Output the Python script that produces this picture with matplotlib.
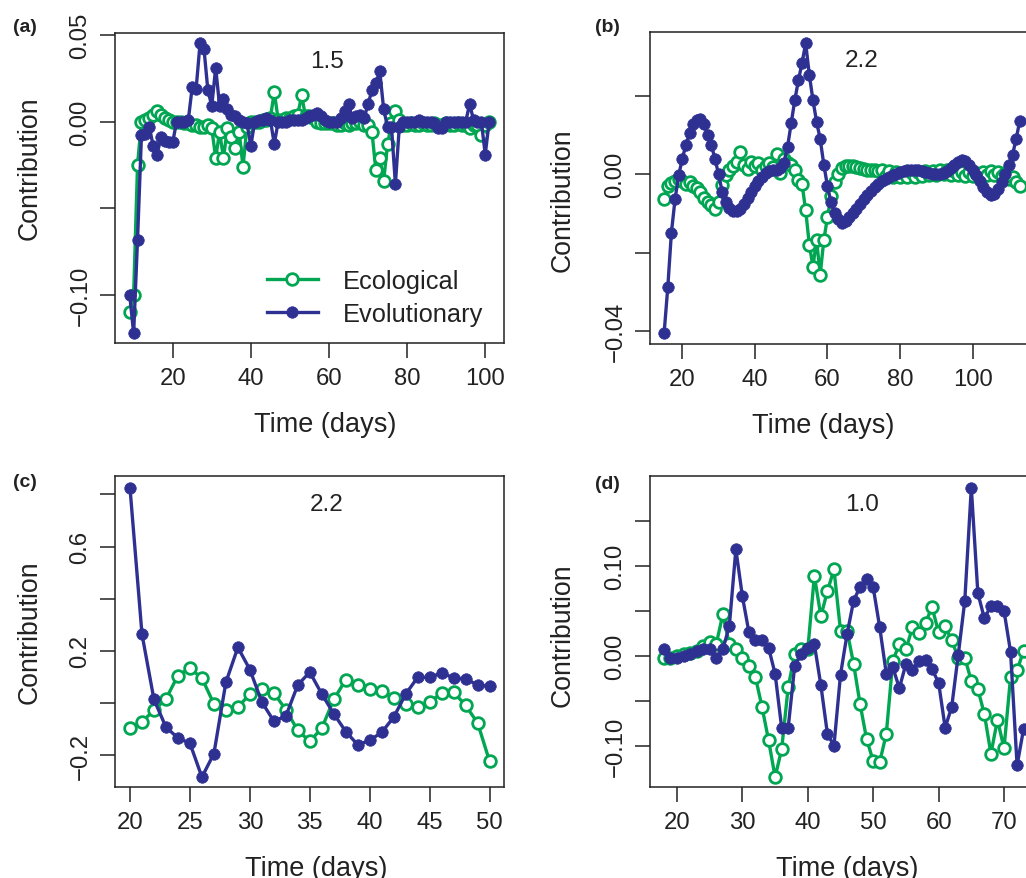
import numpy as np
import matplotlib.pyplot as plt

plt.rcParams['font.family'] = ['Liberation Sans', 'DejaVu Sans']
plt.rcParams['axes.unicode_minus'] = True

GREEN = '#00a651'
BLUE = '#2e3192'
INK = '#222222'

# ---- data (days, ecological, evolutionary) ----
days_a = list(range(9, 102))
eco_a = [-0.110, -0.100, -0.025, 0.000, 0.001, 0.002, 0.004, 0.006, 0.004, 0.002,
         0.001, 0.000, 0.000, 0.000, -0.001, -0.001, -0.002, -0.002, -0.003, -0.003,
         -0.002, -0.004, -0.021, -0.006, -0.021, -0.004, -0.009, -0.015, -0.006, -0.026,
         -0.003, 0.000, 0.000, 0.000, 0.001, 0.001, 0.002, 0.017, 0.001, 0.001,
         0.002, 0.002, 0.003, 0.004, 0.015, 0.003, 0.003, 0.002, 0.000, -0.001,
         -0.001, -0.001, -0.001, -0.002, -0.002, -0.001, -0.002, -0.001, -0.001, 0.000,
         -0.002, -0.002, -0.006, -0.028, -0.021, -0.034, -0.013, -0.001, 0.006, 0.001,
         -0.002, -0.002, -0.001, -0.002, -0.002, -0.001, -0.002, -0.002, -0.001, -0.002,
         -0.002, -0.001, -0.002, -0.002, -0.001, -0.002, -0.002, -0.004, -0.002, -0.002,
         -0.008, -0.002, 0.000]
evo_a = [-0.100, -0.122, -0.068, -0.008, -0.007, -0.003, -0.014, -0.019, -0.009, -0.011,
         -0.012, -0.012, 0.000, 0.000, 0.000, 0.001, 0.020, 0.019, 0.045, 0.042,
         0.018, 0.009, 0.031, 0.009, 0.013, 0.007, 0.004, 0.003, 0.001, 0.000,
         -0.001, -0.014, 0.000, 0.001, 0.001, 0.002, 0.001, -0.013, 0.000, 0.000,
         0.000, 0.001, 0.001, 0.001, 0.001, 0.002, 0.003, 0.004, 0.005, 0.003,
         0.001, 0.000, 0.000, 0.000, 0.002, 0.006, 0.010, 0.002, 0.003, 0.004,
         0.002, 0.010, 0.018, 0.022, 0.029, 0.007, -0.003, -0.003, -0.036, -0.003,
         0.000, 0.000, 0.000, 0.000, 0.001, 0.000, 0.000, 0.000, -0.001, -0.004,
         -0.004, 0.000, 0.000, 0.000, 0.000, 0.000, 0.000, 0.010, 0.001, 0.000,
         0.000, -0.019, 0.000]

days_b = list(range(15, 114))
eco_b = [-0.0064, -0.0030, -0.0022, -0.0018, -0.0012, -0.0018, -0.0025, -0.0020, -0.0030, -0.0035,
         -0.0045, -0.0060, -0.0070, -0.0078, -0.0088, -0.0070, -0.0028, -0.0002, 0.0010, 0.0020,
         0.0031, 0.0058, 0.0024, 0.0014, 0.0032, 0.0020, 0.0030, 0.0012, 0.0022, 0.0030,
         0.0018, 0.0052, 0.0004, 0.0040, 0.0030, 0.0024, 0.0010, -0.0015, -0.0025, -0.0092,
         -0.0180, -0.0236, -0.0168, -0.0257, -0.0168, -0.0110, -0.0055, -0.0020, 0.0002, 0.0016,
         0.0022, 0.0020, 0.0022, 0.0018, 0.0015, 0.0014, 0.0012, 0.0010, 0.0011, 0.0008,
         0.0010, -0.0004, 0.0008, -0.0006, 0.0006, -0.0008, 0.0004, -0.0008, 0.0005, -0.0006,
         0.0006, -0.0005, 0.0008, -0.0003, 0.0009, -0.0002, 0.0010, 0.0000, 0.0010, -0.0001,
         0.0009, -0.0002, 0.0007, -0.0004, 0.0006, -0.0005, 0.0004, -0.0006, 0.0006, -0.0003,
         0.0008, -0.0002, 0.0007, -0.0005, 0.0003, -0.0012, -0.0008, -0.0020, -0.0030]
evo_b = [-0.0405, -0.0289, -0.0149, -0.0064, -0.0003, 0.0040, 0.0075, 0.0105, 0.0128, 0.0140,
         0.0142, 0.0128, 0.0100, 0.0075, 0.0040, 0.0000, -0.0045, -0.0070, -0.0085, -0.0094,
         -0.0095, -0.0088, -0.0075, -0.0060, -0.0045, -0.0030, -0.0018, -0.0008, 0.0004, 0.0008,
         0.0010, 0.0012, 0.0016, 0.0030, 0.0070, 0.0130, 0.0190, 0.0240, 0.0285, 0.0335,
         0.0255, 0.0190, 0.0135, 0.0090, 0.0025, -0.0030, -0.0072, -0.0100, -0.0115, -0.0124,
         -0.0120, -0.0110, -0.0100, -0.0088, -0.0075, -0.0063, -0.0052, -0.0042, -0.0033, -0.0025,
         -0.0018, -0.0012, -0.0006, -0.0002, 0.0002, 0.0005, 0.0008, 0.0010, 0.0011, 0.0011,
         0.0010, 0.0008, 0.0005, 0.0003, 0.0001, 0.0000, 0.0000, 0.0003, 0.0008, 0.0015,
         0.0024, 0.0032, 0.0036, 0.0033, 0.0025, 0.0012, -0.0003, -0.0018, -0.0033, -0.0046,
         -0.0053, -0.0050, -0.0038, -0.0020, 0.0000, 0.0025, 0.0050, 0.0090, 0.0137]

days_c = list(range(20, 51))
eco_c = [-0.097, -0.072, -0.029, 0.015, 0.105, 0.133, 0.095, -0.004, -0.029, -0.017, 0.034,
         0.054, 0.038, -0.026, -0.106, -0.148, -0.097, 0.013, 0.089, 0.069, 0.054,
         0.047, 0.018, -0.004, -0.017, 0.003, 0.038, 0.041, -0.010, -0.077, -0.225]
evo_c = [0.826, 0.264, 0.013, -0.093, -0.135, -0.155, -0.285, -0.195, 0.079, 0.213, 0.128,
         0.003, -0.070, -0.051, 0.069, 0.118, 0.034, -0.042, -0.110, -0.161, -0.144,
         -0.113, -0.055, 0.034, 0.098, 0.098, 0.115, 0.096, 0.092, 0.069, 0.063]

days_d = list(range(18, 74))
eco_d = [-0.002, -0.003, 0.000, 0.002, 0.003, 0.005, 0.011, 0.015, 0.013, 0.046,
         0.013, 0.007, -0.003, -0.011, -0.024, -0.057, -0.094, -0.135, -0.104, -0.035,
         0.002, 0.007, 0.007, 0.089, 0.044, 0.072, 0.096, 0.028, 0.028, -0.009,
         -0.054, -0.093, -0.117, -0.118, -0.087, -0.0055, 0.013, 0.007, 0.0315, 0.0256,
         0.037, 0.054, 0.026, 0.033, 0.017, -0.002, -0.002, -0.028, -0.037, -0.065,
         -0.109, -0.071, -0.103, -0.024, -0.016, 0.0056]
evo_d = [0.0074, -0.002, -0.003, 0.000, 0.002, 0.005, 0.008, 0.007, -0.002, 0.007,
         0.033, 0.1185, 0.066, 0.026, 0.017, 0.017, 0.009, -0.020, -0.080, -0.080,
         -0.011, 0.002, 0.009, 0.013, -0.033, -0.087, -0.100, -0.021, 0.024, 0.061,
         0.077, 0.085, 0.076, 0.0315, -0.020, -0.013, -0.036, -0.009, -0.016, -0.0055,
         -0.0045, -0.015, -0.030, -0.080, -0.057, 0.0008, 0.061, 0.187, 0.0697, 0.0415,
         0.0556, 0.0556, 0.050, 0.0045, -0.122, -0.081]

W, H = 1026, 879
fig = plt.figure(figsize=(W / 100, H / 100), dpi=100)


def px_rect(left, top, right, bottom):
    # pixel box -> figure fraction rect
    return [left / W, 1 - bottom / H, (right - left) / W, (bottom - top) / H]


def draw_panel(rect, days, eco, evo, xlim, ylim, xticks, yticks, ylabels,
               title, letter, letter_xy, xlab_xy, ylab_xy, legend=False):
    ax = fig.add_axes(rect)
    ax.plot(days, eco, '-o', color=GREEN, lw=2.4, ms=8.4, mfc='white',
            mew=2.0, label='Ecological', zorder=2)
    ax.plot(days, evo, '-o', color=BLUE, lw=2.4, ms=8.3, mew=0.5,
            label='Evolutionary', zorder=3)
    # ticks first: set_xticks would widen the limits otherwise
    ax.set_xticks(xticks)
    ax.set_yticks(yticks)
    ax.set_yticklabels(ylabels)
    ax.set_xlim(*xlim)
    ax.set_ylim(*ylim)
    ax.tick_params(direction='out', length=11, width=1.1, labelsize=17.2,
                   pad=6, colors=INK)
    for lab in ax.get_yticklabels():
        lab.set_rotation(90)
        lab.set_va('center')
    for s in ax.spines.values():
        s.set_linewidth(1.1)
        s.set_color(INK)
    ax.set_xlabel('Time (days)', fontsize=19.5, color=INK, va='center')
    ax.xaxis.set_label_coords(*xlab_xy)
    ax.set_ylabel('Contribution', fontsize=19.2, color=INK, va='center')
    ax.yaxis.set_label_coords(*ylab_xy)
    ax.text(0.545, 0.91, title, transform=ax.transAxes, ha='center',
            va='center', fontsize=17.5, color=INK)
    fig.text(letter_xy[0] / W, 1 - letter_xy[1] / H, letter, ha='center',
             va='center', fontsize=14, fontweight='bold', color=INK)
    if legend:
        ax.legend(loc='upper left', bbox_to_anchor=(0.39, 0.24), frameon=False,
                  fontsize=18.3, handlelength=2.0, handletextpad=1.0,
                  labelspacing=0.38, borderpad=0, borderaxespad=0,
                  labelcolor=INK)
    return ax


draw_panel(px_rect(115, 34, 504, 344), days_a, eco_a, evo_a,
           (5.23, 104.8), (-0.1276, 0.051), [20, 40, 60, 80, 100],
           [-0.10, -0.05, 0.00, 0.05], ['\u22120.10', '', '0.00', '0.05'],
           '1.5', '(a)', (25, 28), (0.54, -0.262), (-0.2185, 0.568), legend=True)

draw_panel(px_rect(650, 33, 1039, 345), days_b, eco_b, evo_b,
           (11.1, 118.3), (-0.0434, 0.0364), [20, 40, 60, 80, 100],
           [-0.04, -0.02, 0.00, 0.02], ['\u22120.04', '', '0.00', ''],
           '2.2', '(b)', (607, 28), (0.445, -0.26), (-0.2237, 0.465))

draw_panel(px_rect(115, 477, 504, 788), days_c, eco_c, evo_c,
           (18.75, 51.2), (-0.323, 0.871), [20, 25, 30, 35, 40, 45, 50],
           [-0.2, 0.0, 0.2, 0.4, 0.6, 0.8], ['\u22120.2', '', '0.2', '', '0.6', ''],
           '2.2', '(c)', (25, 483), (0.518, -0.262), (-0.2185, 0.5))

draw_panel(px_rect(650, 477, 1039, 788), days_d, eco_d, evo_d,
           (15.87, 75.35), (-0.146, 0.2), [20, 30, 40, 50, 60, 70],
           [-0.10, -0.05, 0.00, 0.05, 0.10, 0.15],
           ['\u22120.10', '', '0.00', '', '0.10', ''],
           '1.0', '(d)', (607, 485), (0.506, -0.262), (-0.2237, 0.492))

fig.savefig('out.png', dpi=100)
